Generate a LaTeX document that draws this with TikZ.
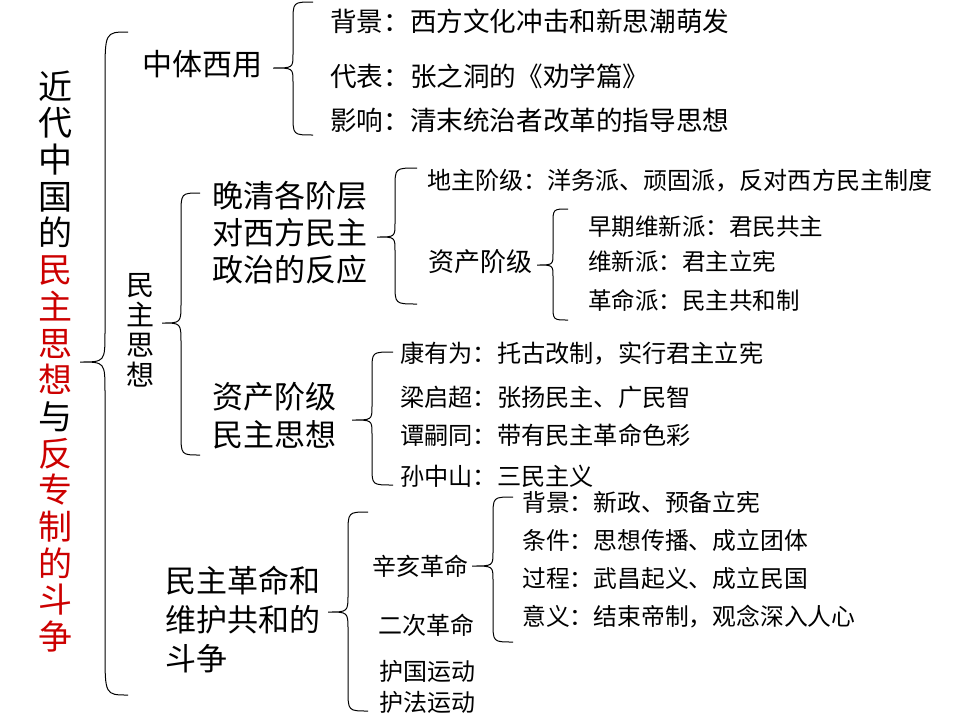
\documentclass[tikz,border=0pt]{standalone}
\usepackage{fontspec}
\setmainfont{Noto Sans CJK SC}
\definecolor{tred}{RGB}{204,0,0}
\newcommand{\fsz}[2]{\fontsize{#1}{#2}\selectfont}
% brace: xe, ytop, ybottom, xspine, xtip, ytip, r-end, r-mid
\newcommand{\cbrace}[8]{%
  \draw[brc] (#1,#2) .. controls (#4,#2) .. (#4,#2+#7) -- (#4,#6-#8)
    .. controls (#4,#6) .. (#5,#6) .. controls (#4,#6) .. (#4,#6+#8)
    -- (#4,#3-#7) .. controls (#4,#3) .. (#1,#3);}
\tikzset{
  lbl/.style={inner sep=0pt, anchor=west, align=left},
  vlbl/.style={inner sep=0pt, anchor=center, align=center},
  brc/.style={draw=black, line width=1pt},
}
\begin{document}
\begin{tikzpicture}[x=1pt,y=-1pt]
\useasboundingbox (0,0) rectangle (960,720);

% vertical title
\node[vlbl, font=\fsz{34}{36.7}] (title) at (55,361.5)
  {近\\代\\中\\国\\的\\\textcolor{tred}{民}\\\textcolor{tred}{主}\\\textcolor{tred}{思}\\\textcolor{tred}{想}\\与\\\textcolor{tred}{反}\\\textcolor{tred}{专}\\\textcolor{tred}{制}\\\textcolor{tred}{的}\\\textcolor{tred}{斗}\\\textcolor{tred}{争}};

% big brace
\cbrace{128}{32}{695}{105}{80}{362}{45}{30}

% 中体西用
\node[lbl, font=\fsz{30}{36}] (zt) at (142,64) {中体西用};
\cbrace{313}{2}{135}{293}{273}{68}{20}{14}
\node[lbl, font=\fsz{26.6}{32}] (bj1) at (330,21) {背景：西方文化冲击和新思潮萌发};
\node[lbl, font=\fsz{26.6}{32}] (db) at (330,76) {代表：张之洞的《劝学篇》};
\node[lbl, font=\fsz{26.6}{32}] (yx) at (330,120) {影响：清末统治者改革的指导思想};

% 民主思想
\node[vlbl, font=\fsz{28}{30}] (mz) at (140,330) {民\\主\\思\\想};
\cbrace{200}{193}{455}{181}{162}{323}{22}{20}

% 晚清各阶层
\node[lbl, font=\fsz{31}{37}] (wq) at (212,233) {晚清各阶层\\对西方民主\\政治的反应};
\cbrace{417}{168}{304}{395}{377}{237}{20}{14}
\node[lbl, font=\fsz{24.05}{30}] (dz) at (427,181) {地主阶级：洋务派、顽固派，反对西方民主制度};
\node[lbl, font=\fsz{26}{30}] (zc) at (428,262) {资产阶级};
\cbrace{568}{209}{320}{553}{537}{265}{15}{12}
\node[lbl, font=\fsz{23.5}{28}] (zq) at (588,227) {早期维新派：君民共主};
\node[lbl, font=\fsz{23.5}{28}] (wx) at (588,262) {维新派：君主立宪};
\node[lbl, font=\fsz{23.5}{28}] (gm) at (588,300) {革命派：民主共和制};

% 资产阶级民主思想
\node[lbl, font=\fsz{31}{38}] (zcmz) at (212,416) {资产阶级\\民主思想};
\cbrace{393}{352}{485}{372}{352}{420}{18}{14}
\node[lbl, font=\fsz{24.2}{30}] (ky) at (400,354) {康有为：托古改制，实行君主立宪};
\node[lbl, font=\fsz{24.2}{30}] (lq) at (400,397) {梁启超：张扬民主、广民智};
\node[lbl, font=\fsz{24.2}{30}] (ts) at (400,435) {谭嗣同：带有民主革命色彩};
\node[lbl, font=\fsz{24.2}{30}] (sz) at (400,476) {孙中山：三民主义};

% 民主革命和维护共和的斗争
\node[lbl, font=\fsz{31}{39}] (mg) at (165,620) {民主革命和\\维护共和的\\斗争};
\cbrace{368}{512}{711}{348}{328}{612}{22}{18}
\node[lbl, font=\fsz{24}{28}] (xh) at (372,566) {辛亥革命};
\node[lbl, font=\fsz{24}{28}] (ec) at (378,625) {二次革命};
\node[lbl, font=\fsz{24}{28}] (hg) at (379,671) {护国运动};
\node[lbl, font=\fsz{24}{28}] (hf) at (379,702) {护法运动};
\cbrace{513}{497}{642}{493}{472}{566}{20}{14}
\node[lbl, font=\fsz{23.8}{28}] (bj2) at (522,502) {背景：新政、预备立宪};
\node[lbl, font=\fsz{23.8}{28}] (tj) at (522,540) {条件：思想传播、成立团体};
\node[lbl, font=\fsz{23.8}{28}] (gc) at (522,578) {过程：武昌起义、成立民国};
\node[lbl, font=\fsz{23.8}{28}] (yy) at (522,617) {意义：结束帝制，观念深入人心};
\end{tikzpicture}
\end{document}
